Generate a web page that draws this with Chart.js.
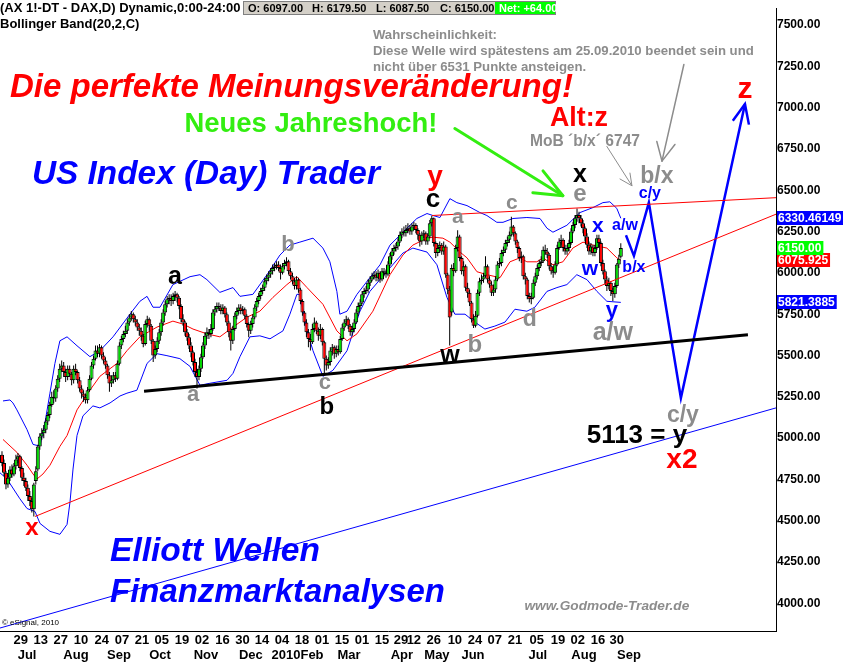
<!DOCTYPE html>
<html><head><meta charset="utf-8">
<script src="https://cdn.jsdelivr.net/npm/chart.js@4.4.1/dist/chart.umd.min.js"></script>
<style>html,body{margin:0;padding:0;background:#fff;overflow:hidden}canvas{display:block}</style>
</head><body>
<canvas id="c" width="843" height="665"></canvas>
<script>
// ---------- DATA ----------
const opens = [
4900,4850,4790,4720,4760,4810,4780,4830,4870,4890,
4820,4760,4740,4700,4650,4620,4570,4740,4810,4950,
5010,5030,5050,5100,5140,5200,5250,5240,5300,5360,
5420,5440,5400,5370,5420,5390,5350,5420,5400,5350,
5300,5270,5250,5230,5290,5360,5440,5480,5530,5510,
5550,5500,5470,5440,5380,5330,5350,5380,5360,5450,
5560,5600,5630,5650,5700,5730,5750,5720,5700,5670,
5650,5620,5570,5690,5720,5680,5590,5500,5540,5590,
5640,5700,5760,5810,5840,5850,5830,5860,5870,5850,
5800,5720,5700,5640,5610,5560,5520,5460,5400,5370,
5420,5490,5560,5620,5640,5630,5660,5760,5780,5800,
5790,5770,5790,5750,5700,5640,5590,5660,5740,5770,
5790,5770,5780,5740,5690,5650,5690,5730,5790,5830,
5860,5890,5910,5950,5970,5990,6010,6030,6040,6050,
6030,6000,6040,6060,6070,6010,5980,5950,5920,5960,
5900,5830,5760,5700,5640,5600,5580,5660,5700,5650,
5620,5660,5580,5480,5440,5460,5530,5550,5510,5540,
5520,5600,5670,5700,5720,5680,5640,5660,5700,5760,
5800,5820,5870,5890,5900,5940,5960,5980,5990,5970,
6000,5960,6010,6000,5990,6050,6100,6130,6150,6160,
6190,6230,6250,6240,6260,6270,6250,6280,6290,6260,
6230,6190,6230,6240,6190,6220,6300,6330,6180,6120,
6150,6170,6130,6160,5990,5900,5760,6030,6010,6150,
6220,6090,6010,6040,5910,5880,5820,5720,5680,5740,
5880,5950,5960,5980,6040,5960,5930,5880,5900,5960,
6050,6060,6120,6140,6180,6200,6230,6280,6240,6190,
6150,6090,6100,5980,5960,5860,5840,5850,5940,5980,
6030,6060,6070,6140,6130,6110,6040,6010,6000,6050,
6150,6190,6200,6150,6130,6150,6180,6250,6290,6330,
6350,6330,6300,6270,6220,6170,6130,6160,6120,6150,
6210,6180,6060,6010,5960,5920,5940,5890,5870,5920,
6050,6097];
const highs = [
4920,4870,4800,4780,4830,4840,4850,4900,4910,4900,
4830,4790,4760,4720,4680,4640,4730,4830,4960,5030,
5060,5080,5120,5160,5220,5280,5290,5320,5380,5450,
5470,5460,5420,5440,5440,5400,5440,5450,5410,5370,
5320,5290,5270,5310,5380,5460,5500,5560,5560,5570,
5560,5520,5490,5450,5400,5380,5400,5400,5470,5580,
5620,5650,5680,5720,5750,5770,5760,5740,5720,5690,
5670,5630,5710,5740,5730,5690,5600,5560,5610,5660,
5720,5780,5830,5860,5870,5870,5880,5890,5880,5860,
5810,5750,5710,5660,5630,5580,5530,5480,5420,5440,
5510,5580,5640,5670,5660,5690,5780,5800,5820,5820,
5810,5810,5800,5760,5710,5650,5680,5760,5790,5810,
5810,5800,5790,5750,5700,5710,5750,5810,5850,5880,
5910,5930,5970,5990,6010,6030,6050,6060,6070,6070,
6050,6060,6080,6094,6080,6030,6000,5970,5980,5970,
5910,5840,5770,5720,5660,5630,5690,5730,5710,5670,
5690,5670,5590,5500,5490,5550,5570,5560,5560,5560,
5620,5690,5720,5740,5730,5690,5680,5720,5780,5820,
5840,5890,5910,5920,5960,5980,6000,6010,6010,6020,
6010,6030,6030,6020,6070,6120,6150,6170,6180,6210,
6250,6270,6280,6290,6300,6290,6300,6310,6300,6270,
6240,6250,6260,6250,6240,6320,6345,6335,6190,6180,
6190,6180,6190,6170,6000,5920,6050,6060,6170,6258,
6230,6100,6070,6050,5940,5900,5830,5750,5770,5900,
5970,5990,6000,6100,6050,5980,5950,5930,5980,6070,
6090,6140,6160,6200,6220,6250,6340,6290,6250,6200,
6160,6130,6110,6000,5970,5880,5880,5960,6000,6050,
6080,6100,6160,6170,6150,6120,6060,6040,6070,6170,
6210,6230,6210,6170,6170,6200,6270,6310,6350,6390,
6370,6350,6320,6280,6240,6190,6180,6170,6170,6230,
6230,6190,6080,6020,5980,5970,5950,5910,5940,6060,
6110,6179.5];
const lows = [
4830,4770,4690,4700,4740,4760,4770,4810,4850,4800,
4740,4710,4680,4620,4590,4550,4526,4720,4800,4930,
4990,5000,5030,5080,5120,5190,5210,5220,5280,5340,
5400,5370,5340,5350,5370,5320,5330,5380,5330,5280,
5240,5220,5210,5210,5280,5350,5420,5470,5490,5490,
5480,5450,5420,5360,5280,5310,5330,5340,5350,5440,
5540,5580,5610,5630,5680,5710,5700,5680,5650,5620,
5590,5550,5560,5670,5650,5570,5460,5480,5520,5570,
5620,5680,5740,5790,5810,5800,5810,5830,5820,5780,
5700,5680,5620,5590,5540,5490,5440,5370,5300,5350,
5400,5480,5540,5600,5600,5610,5650,5740,5760,5770,
5750,5750,5730,5680,5610,5530,5570,5650,5720,5750,
5750,5750,5720,5670,5610,5630,5670,5720,5770,5810,
5840,5870,5890,5930,5950,5970,5990,6010,6020,6010,
5960,5990,6020,6040,5990,5960,5930,5900,5900,5880,
5810,5740,5680,5610,5550,5530,5570,5640,5630,5590,
5600,5560,5390,5410,5420,5440,5500,5480,5490,5500,
5510,5590,5650,5680,5660,5620,5620,5640,5690,5740,
5780,5810,5850,5870,5880,5920,5950,5960,5950,5950,
5940,5950,5980,5970,5980,6040,6080,6110,6130,6140,
6180,6210,6220,6220,6240,6230,6230,6260,6240,6200,
6160,6170,6210,6170,6170,6210,6280,6160,6090,6100,
6120,6110,6110,5970,5870,5560,5740,5980,6000,6130,
6070,5990,5980,5890,5850,5800,5700,5667,5670,5730,
5860,5930,5940,5970,5940,5910,5860,5860,5880,5950,
6030,6040,6100,6120,6160,6180,6220,6220,6170,6120,
6070,6060,5960,5930,5840,5820,5810,5840,5920,5960,
6010,6040,6060,6110,6090,6020,5990,5970,5990,6040,
6140,6170,6130,6110,6110,6130,6170,6240,6270,6310,
6300,6280,6240,6190,6150,6110,6110,6100,6100,6140,
6160,6040,5990,5930,5890,5900,5860,5830,5850,5910,
6030,6087.5];
const closes = [
4850,4790,4720,4760,4810,4780,4830,4870,4890,4820,
4760,4740,4700,4650,4620,4570,4720,4800,4950,5010,
5030,5050,5100,5140,5200,5250,5240,5300,5360,5420,
5440,5400,5370,5420,5390,5350,5420,5400,5350,5300,
5270,5250,5230,5290,5360,5440,5480,5530,5510,5550,
5500,5470,5440,5380,5330,5350,5380,5360,5450,5560,
5600,5630,5650,5700,5730,5750,5720,5700,5670,5650,
5620,5570,5690,5720,5680,5590,5500,5540,5590,5640,
5700,5760,5810,5840,5850,5830,5860,5870,5850,5800,
5720,5700,5640,5610,5560,5520,5460,5400,5370,5420,
5490,5560,5620,5640,5630,5660,5760,5780,5800,5790,
5770,5790,5750,5700,5640,5590,5660,5740,5770,5790,
5770,5780,5740,5690,5650,5690,5730,5790,5830,5860,
5890,5910,5950,5970,5990,6010,6030,6040,6050,6030,
6000,6040,6060,6070,6010,5980,5950,5920,5960,5900,
5830,5760,5700,5640,5600,5580,5660,5700,5650,5620,
5660,5580,5480,5440,5460,5530,5550,5510,5540,5520,
5600,5670,5700,5720,5680,5640,5660,5700,5760,5800,
5820,5870,5890,5900,5940,5960,5980,5990,5970,6000,
5960,6010,6000,5990,6050,6100,6130,6150,6160,6190,
6230,6250,6240,6260,6270,6250,6280,6290,6260,6230,
6190,6230,6240,6190,6220,6300,6330,6180,6120,6150,
6170,6130,6160,5990,5900,5730,6030,6010,6150,6220,
6090,6010,6040,5910,5880,5820,5720,5680,5740,5880,
5950,5960,5980,6040,5960,5930,5880,5900,5960,6050,
6060,6120,6140,6180,6200,6230,6280,6240,6190,6150,
6090,6100,5980,5960,5860,5840,5850,5940,5980,6030,
6060,6070,6140,6130,6110,6040,6010,6000,6050,6150,
6190,6200,6150,6130,6150,6180,6250,6290,6330,6350,
6330,6300,6270,6220,6170,6130,6160,6120,6150,6210,
6180,6060,6010,5960,5920,5940,5890,5870,5920,6050,
6086,6150];

// Bollinger Band (20,2,C) at sparse positions
const upperIdx = [0.5,4,5.5,7.5,12.6,15.6,17.6,19.1,21.6,24.1,26.6,29.1,32.7,37.7,44.2,49.2,55.8,64.3,69.3,72.9,75.9,79.4,85.9,94.5,99.5,103,109.5,116.1,119.6,126.1,133.2,139.7,144.7,149.7,156.3,161.3,164.8,168.3,169.8,173.4,178.4,184.9,190,195,201.5,208.5,213.6,216.6,220.1,225.1,228.6,233.7,240.2,243.7,248.7,251.8,256.8,263.8,270.4,273.9,276.9,283.9,290.5,297,302,305.5,309,311];
const upperVal = [5225,5231,5213,5171,5051,4962,4956,4956,5093,5272,5452,5589,5613,5559,5493,5529,5613,5750,5828,5858,5792,5792,5929,5977,5989,5959,5882,5911,5858,5870,5989,6108,6168,6186,6210,6150,6067,5888,5750,5768,5870,5971,6049,6168,6246,6329,6359,6347,6335,6449,6425,6407,6365,6347,6306,6306,6329,6335,6329,6270,6246,6288,6365,6395,6425,6430,6390,6330.46149];
const middleIdx = [0.5,7.5,12.6,15.6,17.6,20.6,24.1,29.1,32.7,37.7,44.2,49.2,57.8,62.8,69.3,77.9,85.9,91,96,103,109.5,116.1,123.1,129.6,136.2,143.2,148.2,153.3,161.3,168.3,173.4,178.4,186.4,195,201.5,206.5,213.6,216.6,221.6,225.1,230.2,233.7,238.7,243.7,250.3,255.3,260.3,263.8,268.8,271.9,276.9,281.9,286.9,292,297,304,309,311];
const middleVal = [4992,4914,4836,4783,4753,4783,4836,4950,5016,5171,5290,5374,5452,5529,5613,5672,5708,5690,5660,5631,5613,5672,5732,5768,5852,5929,5977,5911,5810,5649,5589,5631,5768,5989,6108,6168,6210,6216,6210,6186,6126,6091,6007,5989,5971,6067,6091,6067,6067,6091,6049,6067,6150,6186,6168,6150,6091,6075.925];
const lowerIdx = [-1,2.5,9,12.6,16.6,19.1,24.1,29.1,32.7,34.2,35.7,37.7,40.7,45.7,49.2,54.3,59.3,62.8,67.8,72.9,77.9,82.9,89.4,94.5,99.5,104.5,113.1,116.1,119.6,124.6,129.6,134.7,141.2,144.7,148.2,149.7,153.3,156.3,161.3,166.3,173.4,179.9,184.9,190,195,201.5,206.5,213.6,218.6,223.6,227.6,232.7,237.7,242.7,247.7,252.8,257.8,263.8,267.8,273.9,278.9,283.9,288.9,294,299,304,311];
const lowerVal = [4790,4753,4633,4574,4556,4484,4436,4418,4478,4615,4813,5016,5135,5195,5183,5213,5255,5272,5290,5452,5511,5499,5481,5434,5320,5332,5350,5392,5493,5613,5619,5601,5649,5750,5870,5870,5649,5529,5374,5410,5529,5768,5888,5960,6030,6120,6150,6126,6049,5852,5750,5750,5702,5660,5678,5702,5780,5768,5792,5888,5911,5929,5989,5959,5888,5828,5821.3885];

// Trend lines and projected path (index, price)
const blackLine = [[71.4,5284],[374.9,5625]];
const redLowerLine = [[16.6,4526],[389,6355]];
const redUpperLine = [[216.1,6347],[389,6455]];
const blueChannelLine = [[-1,3851],[389,5183]];
const projIdx = [313.6,317.6,325.1,341.2,373.4];
const projVal = [6228,6103,6425,5243,7022];
const projHeadIdx = [367.3,373.4,375.4];
const projHeadVal = [6921,7022,6897];

// Axis ticks
const priceTicks = [4000,4250,4500,4750,5000,5250,5500,5750,6000,6250,6500,6750,7000,7250,7500];
const dayTickIdx = [9.4,19.5,29.5,39.7,50.1,60.3,70.4,80.3,90.5,100.5,110.8,120.9,130.7,140.7,150.8,160.8,170.9,180.9,191,200.5,207,217,227.6,237.7,247.7,257.8,268.8,279.4,289.4,299.5,309];
const dayTickLabels = ['29','13','27','10','24','07','21','05','19','02','16','30','14','04','18','01','15','01','15','29','12','26','10','24','07','21','05','19','02','16','30'];
const monthIdx = [12.6,37.2,58.8,79.4,102.5,125.1,142.7,155.8,174.4,201,218.6,236.7,269.3,292.5,315.1];
const monthLabels = ['Jul','Aug','Sep','Oct','Nov','Dec','2010','Feb','Mar','Apr','May','Jun','Jul','Aug','Sep'];

// ---------- build ----------
const FONT = '"Liberation Sans", Arial, Helvetica, sans-serif';
const GREEN = '#00d800', RED = '#ff0000', BLUE = '#0000ff', GRAY = '#8c8c8c';
const N = closes.length;
const bodies = [], wicks = [], bodyColors = [];
for (let i = 0; i < N; i++) {
  const lo = Math.min(opens[i], closes[i]), hi = Math.max(opens[i], closes[i]);
  bodies.push({x: i, y: [lo, hi === lo ? hi + 2 : hi]});
  wicks.push({x: i, y: [lows[i], highs[i]]});
  bodyColors.push(closes[i] >= opens[i] ? GREEN : RED);
}
const pts = (ix, v) => ix.map((x, k) => ({x, y: v[k]}));
const pairs = a => a.map(p => ({x: p[0], y: p[1]}));

function line(data, color, width, order) {
  return {type: 'line', data, borderColor: color, borderWidth: width, pointRadius: 0,
          fill: false, tension: 0, order, spanGaps: false};
}

// annotations placed in data space (index, price)
const labels = [
  {t:'Die perfekte Meinungsveränderung!', i:4.0, p:7118, w:563, st:'italic bold', c:RED, al:'left'},
  {t:'Alt:z', i:290, p:6935, w:58, st:'bold', c:RED},
  {t:'MoB ´b/x´ 6747', i:293, p:6795, w:110, st:'bold', c:GRAY},
  {t:'Neues Jahreshoch!', i:155.3, p:6897, w:253, st:'bold', c:'#33ee11'},
  {t:'US Index (Day) Trader', i:102.5, p:6592, w:348, st:'italic bold', c:BLUE},
  {t:'Elliott Wellen', i:54.3, p:4311, w:210, st:'italic bold', c:BLUE, al:'left'},
  {t:'Finanzmarktanalysen', i:54.3, p:4066, w:335, st:'italic bold', c:BLUE, al:'left'},
  {t:'www.Godmode-Trader.de', i:304, p:3983, w:165, st:'italic bold', c:GRAY},
  {t:'Wahrscheinlichkeit:', i:186.4, p:7440, s:13.2, st:'bold', c:GRAY, al:'left'},
  {t:'Diese Welle wird spätestens am 25.09.2010 beendet sein und', i:186.4, p:7339, s:13.2, st:'bold', c:GRAY, al:'left'},
  {t:'nicht über 6531 Punkte ansteigen.', i:186.4, p:7243, s:13.2, st:'bold', c:GRAY, al:'left'},
  {t:'© eSignal, 2010', i:0, p:3881, s:8, st:'', c:'#000', al:'left'},
  {t:'x', i:15.1, p:4454, s:24, st:'bold', c:RED},
  {t:'a', i:86.9, p:5977, s:25, st:'bold', c:'#000'},
  {t:'a', i:96, p:5260, s:22, st:'bold', c:GRAY},
  {t:'b', i:143.7, p:6168, s:22, st:'bold', c:GRAY},
  {t:'c', i:162.3, p:5332, s:22, st:'bold', c:GRAY},
  {t:'b', i:163.3, p:5189, s:24, st:'bold', c:'#000'},
  {t:'y', i:217.6, p:6580, s:28, st:'bold', c:RED},
  {t:'c', i:216.6, p:6440, s:26, st:'bold', c:'#000'},
  {t:'a', i:229.1, p:6335, s:21, st:'bold', c:GRAY},
  {t:'w', i:225.1, p:5499, s:25, st:'bold', c:'#000'},
  {t:'b', i:237.7, p:5559, s:24, st:'bold', c:GRAY},
  {t:'c', i:256.3, p:6419, s:21, st:'bold', c:GRAY},
  {t:'d', i:265.3, p:5714, s:23, st:'bold', c:GRAY},
  {t:'x', i:290.5, p:6590, s:25, st:'bold', c:'#000'},
  {t:'e', i:290.5, p:6475, s:24, st:'bold', c:GRAY},
  {t:'x', i:299.5, p:6282, s:21, st:'bold', c:BLUE},
  {t:'w', i:295.5, p:6025, s:21, st:'bold', c:BLUE},
  {t:'y', i:306.5, p:5768, s:22, st:'bold', c:BLUE},
  {t:'a/w', i:307, p:5637, s:25, st:'bold', c:GRAY},
  {t:'a/w', i:313.1, p:6288, s:16, st:'bold', c:BLUE},
  {t:'b/x', i:317.6, p:6030, s:16, st:'bold', c:BLUE},
  {t:'c/y', i:325.6, p:6479, s:16, st:'bold', c:BLUE},
  {t:'b/x', i:329.1, p:6585, s:23, st:'bold', c:GRAY},
  {t:'c/y', i:342.2, p:5135, s:23, st:'bold', c:GRAY},
  {t:'5113 = y', i:319.1, p:5016, s:26, st:'bold', c:'#000'},
  {t:'x2', i:341.7, p:4866, s:28, st:'bold', c:RED},
  {t:'z', i:373.4, p:7106, s:30, st:'bold', c:RED}
];
const arrows = [
  {pts:[[227.6,6873],[281.9,6467]], c:'#33ee11', w:3},
  {pts:[[271.9,6617],[281.9,6467],[266.8,6485]], c:'#33ee11', w:3},
  {pts:[[342.7,7261],[331.7,6676]], c:'#8c8c8c', w:1.5},
  {pts:[[329.1,6795],[331.7,6676],[338.2,6777]], c:'#8c8c8c', w:1.5},
  {pts:[[304,6765],[316.6,6527]], c:'#8c8c8c', w:1},
  {pts:[[310.6,6568],[316.6,6527],[315.6,6604]], c:'#8c8c8c', w:1}
];

const annot = {
  id: 'annot',
  afterDatasetsDraw(chart) {
    const {ctx, scales: {x, y}} = chart;
    ctx.save();
    ctx.lineCap = 'round'; ctx.lineJoin = 'round';
    arrows.forEach(a => {
      ctx.strokeStyle = a.c; ctx.lineWidth = a.w; ctx.beginPath();
      a.pts.forEach((p, k) => { const px = x.getPixelForValue(p[0]), py = y.getPixelForValue(p[1]);
        k ? ctx.lineTo(px, py) : ctx.moveTo(px, py); });
      ctx.stroke();
    });
    labels.forEach(a => {
      let size = a.s;
      if (a.w) { ctx.font = `${a.st} 100px ${FONT}`; size = 100 * a.w / ctx.measureText(a.t).width; }
      ctx.font = `${a.st} ${size}px ${FONT}`;
      ctx.fillStyle = a.c; ctx.textAlign = a.al || 'center'; ctx.textBaseline = 'middle';
      ctx.fillText(a.t, x.getPixelForValue(a.i), y.getPixelForValue(a.p));
    });
    ctx.restore();
  },
  afterDraw(chart) {
    const {ctx, scales: {y}} = chart;
    ctx.save();
    // header
    ctx.fillStyle = '#000'; ctx.textAlign = 'left'; ctx.textBaseline = 'middle';
    ctx.font = `bold 13px ${FONT}`;
    ctx.fillText('(AX 1!-DT - DAX,D) Dynamic,0:00-24:00', 0, 8);
    ctx.fillText('Bollinger Band(20,2,C)', 0, 24);
    // OHLC box
    const L = N - 1;
    ctx.fillStyle = '#d4d0c8'; ctx.fillRect(243, 1, 313, 14);
    ctx.strokeStyle = '#808080'; ctx.lineWidth = 1; ctx.strokeRect(243.5, 1.5, 312, 13);
    ctx.font = `bold 11px ${FONT}`; ctx.fillStyle = '#000';
    ctx.fillText('O: ' + opens[L].toFixed(2), 248, 8.5);
    ctx.fillText('H: ' + highs[L].toFixed(2), 312, 8.5);
    ctx.fillText('L: ' + lows[L].toFixed(2), 376, 8.5);
    ctx.fillText('C: ' + closes[L].toFixed(2), 440, 8.5);
    ctx.fillStyle = '#00ff00'; ctx.fillRect(495, 2, 60, 12);
    ctx.fillStyle = '#fff';
    const net = closes[L] - closes[L - 1];
    ctx.fillText('Net: ' + (net >= 0 ? '+' : '') + net.toFixed(2), 499, 8.5);
    // last value boxes on price axis
    const boxes = [
      [lowerVal[lowerVal.length - 1], '5821.3885', BLUE],
      [upperVal[upperVal.length - 1], '6330.46149', BLUE],
      [middleVal[middleVal.length - 1], '6075.925', RED],
      [closes[L], closes[L].toFixed(2), '#00ff00']
    ];
    ctx.font = `bold 12px ${FONT}`;
    boxes.forEach(b => {
      const py = y.getPixelForValue(b[0]);
      const w = ctx.measureText(b[1]).width + 3;
      ctx.fillStyle = b[2]; ctx.fillRect(777, Math.round(py) - 7, w, 14);
      ctx.fillStyle = '#fff'; ctx.fillText(b[1], 778, py + 0.5);
    });
    ctx.restore();
  }
};

new Chart(document.getElementById('c'), {
  type: 'bar',
  data: {
    datasets: [
      line(pairs(blackLine), '#000', 3, 0),
      line(pairs(redLowerLine), RED, 1, 0),
      line(pairs(redUpperLine), RED, 1, 0),
      line(pairs(blueChannelLine), BLUE, 1, 0),
      line(pts(projIdx, projVal), BLUE, 2.5, 0),
      line(pts(projHeadIdx, projHeadVal), BLUE, 2.5, 0),
      {type: 'bar', data: bodies, backgroundColor: bodyColors, borderColor: '#000', borderWidth: 1,
       borderSkipped: false, barThickness: 4, grouped: false, inflateAmount: 0, order: 1},
      {type: 'bar', data: wicks, backgroundColor: '#000', borderWidth: 0, barThickness: 1,
       grouped: false, inflateAmount: 0, order: 2},
      line(pts(upperIdx, upperVal), BLUE, 1, 3),
      line(pts(middleIdx, middleVal), RED, 1, 3),
      line(pts(lowerIdx, lowerVal), BLUE, 1, 3)
    ]
  },
  options: {
    responsive: false, animation: false, devicePixelRatio: 1,
    layout: {padding: 0},
    plugins: {legend: {display: false}, tooltip: {enabled: false}, title: {display: false}},
    scales: {
      x: {type: 'linear', min: -1, max: 389, bounds: 'data', offset: false, position: 'bottom',
          grid: {display: false, drawTicks: false}, border: {display: true, color: '#000', width: 1},
          ticks: {autoSkip: false, maxRotation: 0, minRotation: 0, padding: 2, color: '#000',
                  font: {family: FONT, size: 13, weight: 'bold'},
                  callback: (v, k) => dayTickLabels[k]},
          afterBuildTicks: s => { s.ticks = dayTickIdx.map(v => ({value: v})); },
          afterFit: s => { s.height = 17; }},
      x2: {type: 'linear', min: -1, max: 389, bounds: 'data', offset: false, position: 'bottom',
          grid: {display: false, drawTicks: false}, border: {display: false},
          ticks: {autoSkip: false, maxRotation: 0, minRotation: 0, padding: 0, color: '#000',
                  font: {family: FONT, size: 13, weight: 'bold'},
                  callback: (v, k) => monthLabels[k]},
          afterBuildTicks: s => { s.ticks = monthIdx.map(v => ({value: v})); },
          afterFit: s => { s.height = 17; }},
      y: {type: 'linear', position: 'right', min: 3833, max: 7601.5, bounds: 'data',
          grid: {display: false, drawTicks: false}, border: {display: true, color: '#000', width: 1},
          ticks: {padding: 1, color: '#000', font: {family: FONT, size: 12, weight: 'bold'},
                  callback: v => Number(v).toFixed(2)},
          afterBuildTicks: s => { s.ticks = priceTicks.map(v => ({value: v})); },
          afterFit: s => { s.width = 67; }}
    }
  },
  plugins: [annot]
});
</script>
</body></html>
